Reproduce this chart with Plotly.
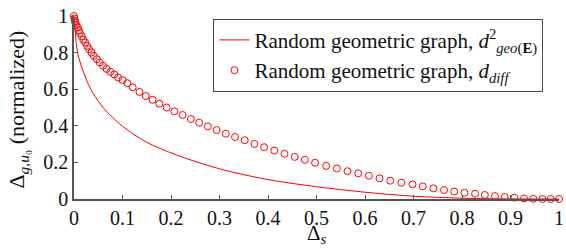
import plotly.graph_objects as go

# Line series: d_geo(E)^2 (normalized)
geo_x = [0, 0.003, 0.0055, 0.01, 0.02, 0.03, 0.04, 0.05, 0.06, 0.07, 0.08, 0.09, 0.1,
         0.125, 0.15, 0.175, 0.2, 0.25, 0.3, 0.35, 0.4, 0.45, 0.5, 0.55, 0.6, 0.65,
         0.7, 0.75, 0.8, 0.85, 0.9, 0.95, 1.0]
geo_y = [1.0, 0.9, 0.83, 0.77, 0.69, 0.625, 0.575, 0.535, 0.5, 0.47, 0.445, 0.42, 0.398,
         0.35, 0.31, 0.279, 0.252, 0.205, 0.165, 0.133, 0.106, 0.085, 0.067, 0.051, 0.037, 0.025,
         0.015, 0.009, 0.004, 0.0015, 0.0005, 0.0001, 0.0]

# Marker series: d_diff (normalized)
diff_x = [0, 0.001, 0.002, 0.003, 0.005, 0.008, 0.010, 0.012, 0.016, 0.019, 0.023, 0.027,
          0.031, 0.036, 0.041, 0.047, 0.053, 0.060, 0.067, 0.075, 0.083, 0.091, 0.100,
          0.110, 0.121, 0.135, 0.148, 0.162, 0.176, 0.191, 0.207, 0.224, 0.241, 0.258,
          0.276, 0.294, 0.313, 0.332, 0.352, 0.372, 0.392, 0.413, 0.434, 0.455, 0.476,
          0.497, 0.520, 0.542, 0.564, 0.586, 0.608, 0.630, 0.652, 0.675, 0.698, 0.719,
          0.741, 0.763, 0.784, 0.805, 0.827, 0.847, 0.868, 0.888, 0.908, 0.928, 0.947,
          0.966, 0.983, 1.0]
diff_y = [1.0, 0.986, 0.973, 0.962, 0.949, 0.937, 0.922, 0.907, 0.889, 0.871, 0.855, 0.837,
          0.819, 0.801, 0.782, 0.764, 0.746, 0.728, 0.711, 0.695, 0.681, 0.664, 0.650,
          0.633, 0.610, 0.585, 0.563, 0.542, 0.521, 0.500, 0.479, 0.459, 0.437, 0.417,
          0.397, 0.377, 0.357, 0.339, 0.321, 0.301, 0.283, 0.265, 0.247, 0.230, 0.214,
          0.198, 0.181, 0.167, 0.152, 0.140, 0.127, 0.113, 0.100, 0.089, 0.080, 0.069,
          0.058, 0.049, 0.041, 0.034, 0.029, 0.022, 0.016, 0.011, 0.007, 0.003, 0.001,
          0.0, 0.0, 0.0]

x_ticks = [0, 0.1, 0.2, 0.3, 0.4, 0.5, 0.6, 0.7, 0.8, 0.9, 1]
x_labels = ["0", "0.1", "0.2", "0.3", "0.4", "0.5", "0.6", "0.7", "0.8", "0.9", "1"]
y_ticks = [0, 0.2, 0.4, 0.6, 0.8, 1]
y_labels = ["0", "0.2", "0.4", "0.6", "0.8", "1"]
x_title = "Δ<sub><i>s</i></sub>"
y_title = "Δ<sub><i>g,u</i>₀</sub> (normalized)"

RED = "#ff0000"
AXC = "#555555"
FONT = "Liberation Serif"

fig = go.Figure()
fig.add_trace(go.Scatter(
    x=geo_x, y=geo_y, mode="lines", line=dict(color=RED, width=1, shape="spline"),
    name="Random geometric graph, <i>d</i><sup>2</sup><sub><i>geo</i>(<b>E</b>)</sub>",
    cliponaxis=False,
))
fig.add_trace(go.Scatter(
    x=diff_x, y=diff_y, mode="markers",
    marker=dict(symbol="circle-open", size=7, color=RED, line=dict(width=1, color=RED)),
    name="Random geometric graph, <i>d</i><sub><i>diff</i></sub>",
    cliponaxis=False,
))

fig.update_layout(
    width=566, height=248,
    margin=dict(l=74, r=7, t=16, b=49),
    paper_bgcolor="white", plot_bgcolor="white",
    font=dict(family=FONT, size=20, color="#111111"),
    showlegend=True,
    legend=dict(
        x=0.968, y=0.985, xanchor="right", yanchor="top",
        bordercolor="#444444", borderwidth=1, bgcolor="white",
        font=dict(family=FONT, size=21, color="#111111"),
        tracegroupgap=0, itemwidth=30,
    ),
    xaxis=dict(
        range=[0, 1], tickvals=x_ticks, ticktext=x_labels,
        showline=True, linecolor=AXC, linewidth=1.5, mirror=False,
        ticks="inside", ticklen=4, tickcolor=AXC, tickwidth=1,
        showgrid=False, zeroline=False, ticklabeloverflow="allow",
        tickfont=dict(family=FONT, size=20), automargin=False,
    ),
    yaxis=dict(
        range=[0, 1], tickvals=y_ticks, ticktext=y_labels,
        showline=True, linecolor=AXC, linewidth=1.5, mirror=False,
        ticks="inside", ticklen=4, tickcolor=AXC, tickwidth=1,
        showgrid=False, zeroline=False, ticklabeloverflow="allow",
        tickfont=dict(family=FONT, size=20), automargin=False,
    ),
    annotations=[
        dict(text=x_title, xref="paper", yref="paper", x=0.501, y=-0.19,
             xanchor="center", yanchor="middle", showarrow=False,
             font=dict(family=FONT, size=21)),
        dict(text=y_title, xref="paper", yref="paper", x=-0.115, y=0.49,
             xanchor="center", yanchor="middle", showarrow=False, textangle=-90,
             font=dict(family=FONT, size=22)),
    ],
)

fig.write_html("out.html", config={"displayModeBar": False},
               post_script="document.body.style.margin='0';document.body.style.padding='0';")
